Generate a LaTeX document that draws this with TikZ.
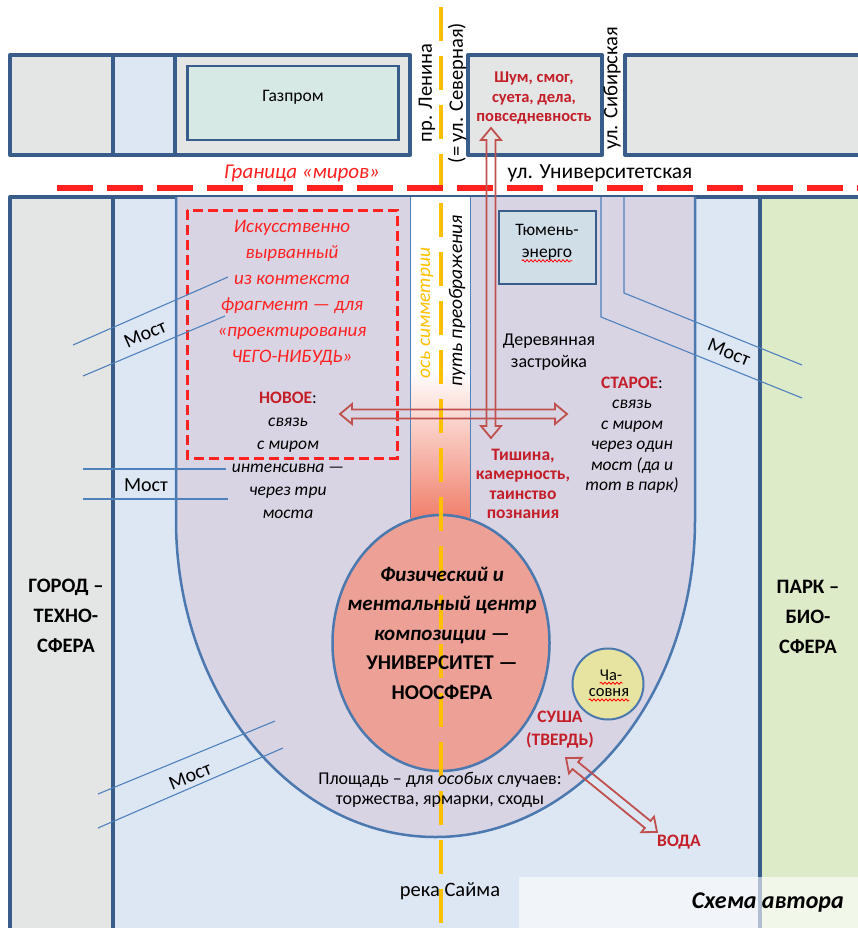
\documentclass[tikz,border=0pt]{standalone}
\usepackage{fontspec}
\setmainfont{Carlito}
\usetikzlibrary{arrows.meta, calc, positioning, shapes.geometric}
\usetikzlibrary{decorations.pathmorphing}
\definecolor{frameblue}{RGB}{56,93,138}
\definecolor{ringblue}{RGB}{74,120,175}
\definecolor{lineblue}{RGB}{79,129,189}
\definecolor{cityfill}{RGB}{228,229,229}
\definecolor{riverfill}{RGB}{221,231,244}
\definecolor{parkfill}{RGB}{222,235,201}
\definecolor{squarefill}{RGB}{216,212,228}
\definecolor{gasfill}{RGB}{215,233,229}
\definecolor{energyfill}{RGB}{208,222,232}
\definecolor{corefill}{RGB}{237,161,150}
\definecolor{stripfill}{RGB}{240,128,108}
\definecolor{chapelfill}{RGB}{230,228,160}
\definecolor{axisorange}{RGB}{255,192,0}
\definecolor{borderred}{RGB}{255,32,32}
\definecolor{textred}{RGB}{196,30,40}
\definecolor{arrowred}{RGB}{192,80,77}

\begin{document}
\begin{tikzpicture}[x=1pt, y=-1pt,% pixel grid, y downwards
   frame/.style = {draw=frameblue, line width=4pt, line join=round},
    ring/.style = {draw=ringblue, line width=2.5pt},
  bridge/.style = {draw=lineblue, line width=1.1pt},
     txt/.style = {inner sep=0pt, align=center, font=\fontsize{17.5}{21}\selectfont},
  street/.style = {inner sep=0pt, font=\fontsize{20.5}{24}\selectfont},
   alarm/.style = {inner sep=0pt, align=center, text=textred,
                   font=\fontsize{16.5}{19.5}\selectfont\bfseries},
  sphere/.style = {inner sep=0pt, align=center, font=\fontsize{20.5}{30}\selectfont\bfseries},
   spell/.style = {draw=red, line width=0.8pt, decorate,
                   decoration={snake, amplitude=1.1pt, segment length=4pt}},
  hollow/.style = {draw=arrowred, line width=1.8pt, line join=miter,
                   to path={let \p1=(\tikztostart), \p2=(\tikztotarget),
                                \n1={atan2(\y2-\y1,\x2-\x1)} in
                   -- ($(\p1)+(\n1:12pt)+(\n1+90:10pt)$) -- ($(\p1)+(\n1:12pt)+(\n1+90:4.5pt)$)
                   -- ($(\p2)+(\n1:-12pt)+(\n1+90:4.5pt)$) -- ($(\p2)+(\n1:-12pt)+(\n1+90:10pt)$)
                   -- (\p2)
                   -- ($(\p2)+(\n1:-12pt)+(\n1-90:10pt)$) -- ($(\p2)+(\n1:-12pt)+(\n1-90:4.5pt)$)
                   -- ($(\p1)+(\n1:12pt)+(\n1-90:4.5pt)$) -- ($(\p1)+(\n1:12pt)+(\n1-90:10pt)$)
                   -- cycle}}
                   ]
	\fill[white] (0,0) rectangle (858,928);
	\useasboundingbox (0,0) rectangle (858,928);

	% upper quarter (city side of the street)
	\fill[cityfill] (10,55) rectangle (410,155);
	\fill[riverfill] (113,55) rectangle (175,155);
	\draw[frame] (10,55) rectangle (410,155) (113,55) -- (113,155) (175,55) -- (175,155);
	\node[draw=frameblue, line width=2.5pt, fill=gasfill,
	      minimum width=211pt, minimum height=74pt] (gazprom box) at (293,103) {};
	\node[txt] (gazprom) at (293,97) {Газпром};
	\draw[frame, fill=cityfill] (468,55) rectangle (602,155);
	\draw[frame, fill=cityfill] (625,55) rectangle (870,155);

	% lower quarter: city, river, park
	\fill[riverfill] (10,197) rectangle (760,935);
	\fill[cityfill] (10,197) rectangle (113,935);
	\fill[parkfill] (760,197) rectangle (870,935);
	\draw[frame] (10,935) -- (10,197) -- (870,197);
	\draw[frame] (113,197) -- (113,935);
	\draw[frame] (760,197) -- (760,935);

	% the square
	\draw[ring, fill=squarefill] (176,197) -- (176,520)
	     arc[start angle=180, end angle=360, x radius=259.5pt, y radius=317pt] -- (695,197);
	\fill[white] (410,197) rectangle (470,371);
	\shade[top color=white, bottom color=stripfill] (410,370) rectangle (470,518);
	\draw[lineblue, line width=1pt] (410,197) -- (410,518) (470,197) -- (470,518);
	\node[ellipse, ring, fill=corefill, minimum width=217pt, minimum height=256pt] (core) at (441,643) {};
	\node[draw=frameblue, line width=2pt, fill=energyfill,
	      minimum width=97pt, minimum height=73pt] (energy box) at (547.5,247.5) {};
	\draw[borderred, line width=3pt, dash pattern=on 10pt off 5pt] (187,210) rectangle (397,458);
	\node[circle, draw=ringblue, line width=2pt, fill=chapelfill, minimum size=71pt] (chapel) at (608,684) {};

	% bridges
	\draw[bridge] (73,345) -- (228,277) (83,376) -- (225,316);
	\draw[bridge] (83,469) -- (226,469) (83,499) -- (228,499);
	\draw[bridge] (98,794) -- (275,721) (98,828) -- (283,748);
	\draw[bridge] (601,197) -- (601,317) -- (802,398) (624,197) -- (624,293) -- (802,365);
	\node[txt, font=\fontsize{20}{24}\selectfont, rotate=24] (bridge a) at (145,334) {Мост};
	\node[txt, font=\fontsize{20}{24}\selectfont] (bridge b) at (146,485) {Мост};
	\node[txt, font=\fontsize{20}{24}\selectfont, rotate=22] (bridge c) at (190,776) {Мост};
	\node[txt, font=\fontsize{20}{24}\selectfont, rotate=-22] (bridge d) at (729,352) {Мост};

	% axis and border of the worlds
	\draw[axisorange, line width=4pt, dash pattern=on 34pt off 15pt] (441,7) -- (441,928);
	\draw[borderred, line width=5pt, dash pattern=on 36pt off 14pt] (57,188) -- (870,188);

	% arrows
	\coordinate (noise tip) at (491,128);
	\coordinate (calm tip)  at (491,438);
	\coordinate (new tip)   at (340,414);
	\coordinate (old tip)   at (567,414);
	\coordinate (land tip)  at (566,758);
	\coordinate (water tip) at (657,832);
	\draw[hollow] (new tip) to (old tip);
	\draw[hollow] (noise tip) to (calm tip);
	\draw[hollow] (land tip) to (water tip);

	% street names
	\node[street, rotate=90] (lenin) at (427,93) {пр. Ленина};
	\node[street, rotate=90] (severnaya) at (457,93) {(= ул. Северная)};
	\node[street, rotate=90] (sibirskaya) at (612,88) {ул. Сибирская};
	\node[street, font=\fontsize{21.5}{25}\selectfont] (universitetskaya) at (600,173) {ул. Университетская};
	\node[street, text=borderred, font=\fontsize{21}{25}\selectfont\itshape] (worlds) at (302,173) {Граница «миров»};

	% texts
	\node[alarm] (noise) at (534,98) {Шум, смог,\\суета, дела,\\повседневность};
	\node[txt, text=borderred, font=\fontsize{19}{26}\selectfont\itshape] (fragment) at (292,293)
	     {Искусственно\\вырванный\\из контекста\\фрагмент — для\\«проектирования\\ЧЕГО-НИБУДЬ»};
	\node[txt, font=\fontsize{17.5}{23}\selectfont\itshape] (new) at (288,455)
	     {\textup{\textbf{\textcolor{textred}{НОВОЕ}}:}\\связь\\с миром\\интенсивна —\\через три\\моста};
	\node[txt, rotate=90, text=axisorange, font=\fontsize{19.5}{23}\selectfont\itshape] (axis) at (427,313) {ось симметрии};
	\node[txt, rotate=90, font=\fontsize{19.5}{23}\selectfont\itshape] (way) at (457,301) {путь преображения};
	\node[txt] (tyumen) at (547,230) {Тюмень-};
	\node[txt] (energo) at (547,255) {энерго};
	\draw[spell] ($(energo.base west)+(0,3)$) -- ($(energo.base east)+(0,3)$);
	\node[txt, font=\fontsize{18}{22}\selectfont] (wooden) at (549,352) {Деревянная\\застройка};
	\node[txt, font=\fontsize{17.5}{20.5}\selectfont\itshape] (old) at (632,435)
	     {\textup{\textbf{\textcolor{textred}{СТАРОЕ}}:}\\связь\\с миром\\через один\\мост (да и\\тот в парк)};
	\node[alarm, font=\fontsize{17.5}{19.5}\selectfont\bfseries] (calm) at (523,484)
	     {Тишина,\\камерность,\\таинство\\познания};
	\node[txt, font=\fontsize{21}{29.5}\selectfont\bfseries] (centre) at (442,633)
	     {\textit{Физический и}\\\textit{ментальный центр}\\\textit{композиции —}\\УНИВЕРСИТЕТ —\\НООСФЕРА};
	\node[txt, font=\fontsize{16.5}{19}\selectfont] (cha) at (611,675) {Ча-};
	\node[txt, font=\fontsize{16.5}{19}\selectfont] (sovnya) at (609,693) {совня};
	\draw[spell] ($(cha.base west)+(0,3)$) -- ($(cha.base east)+(0,3)$);
	\draw[spell] ($(sovnya.base west)+(0,3)$) -- ($(sovnya.base east)+(0,3)$);
	\node[alarm, font=\fontsize{17.5}{23}\selectfont\bfseries] (land) at (560,730) {СУША\\(ТВЕРДЬ)};
	\node[alarm, font=\fontsize{17.5}{21}\selectfont\bfseries] (water) at (679,842) {ВОДА};
	\node[txt, font=\fontsize{18}{20}\selectfont] (square) at (440,790)
	     {Площадь – для \textit{особых} случаев:\\торжества, ярмарки, сходы};
	\node[street] (saima) at (450,891) {река Сайма};
	\node[sphere] (city) at (66,616) {ГОРОД –\\ТЕХНО-\\СФЕРА};
	\node[sphere] (park) at (808,617) {ПАРК –\\БИО-\\СФЕРА};

	% caption
	\fill[white, opacity=0.6] (519,877) rectangle (870,935);
	\node[inner sep=0pt, font=\fontsize{24}{28}\selectfont\bfseries\itshape, anchor=east] (author) at (844,903) {Схема автора};
\end{tikzpicture}
\end{document}
